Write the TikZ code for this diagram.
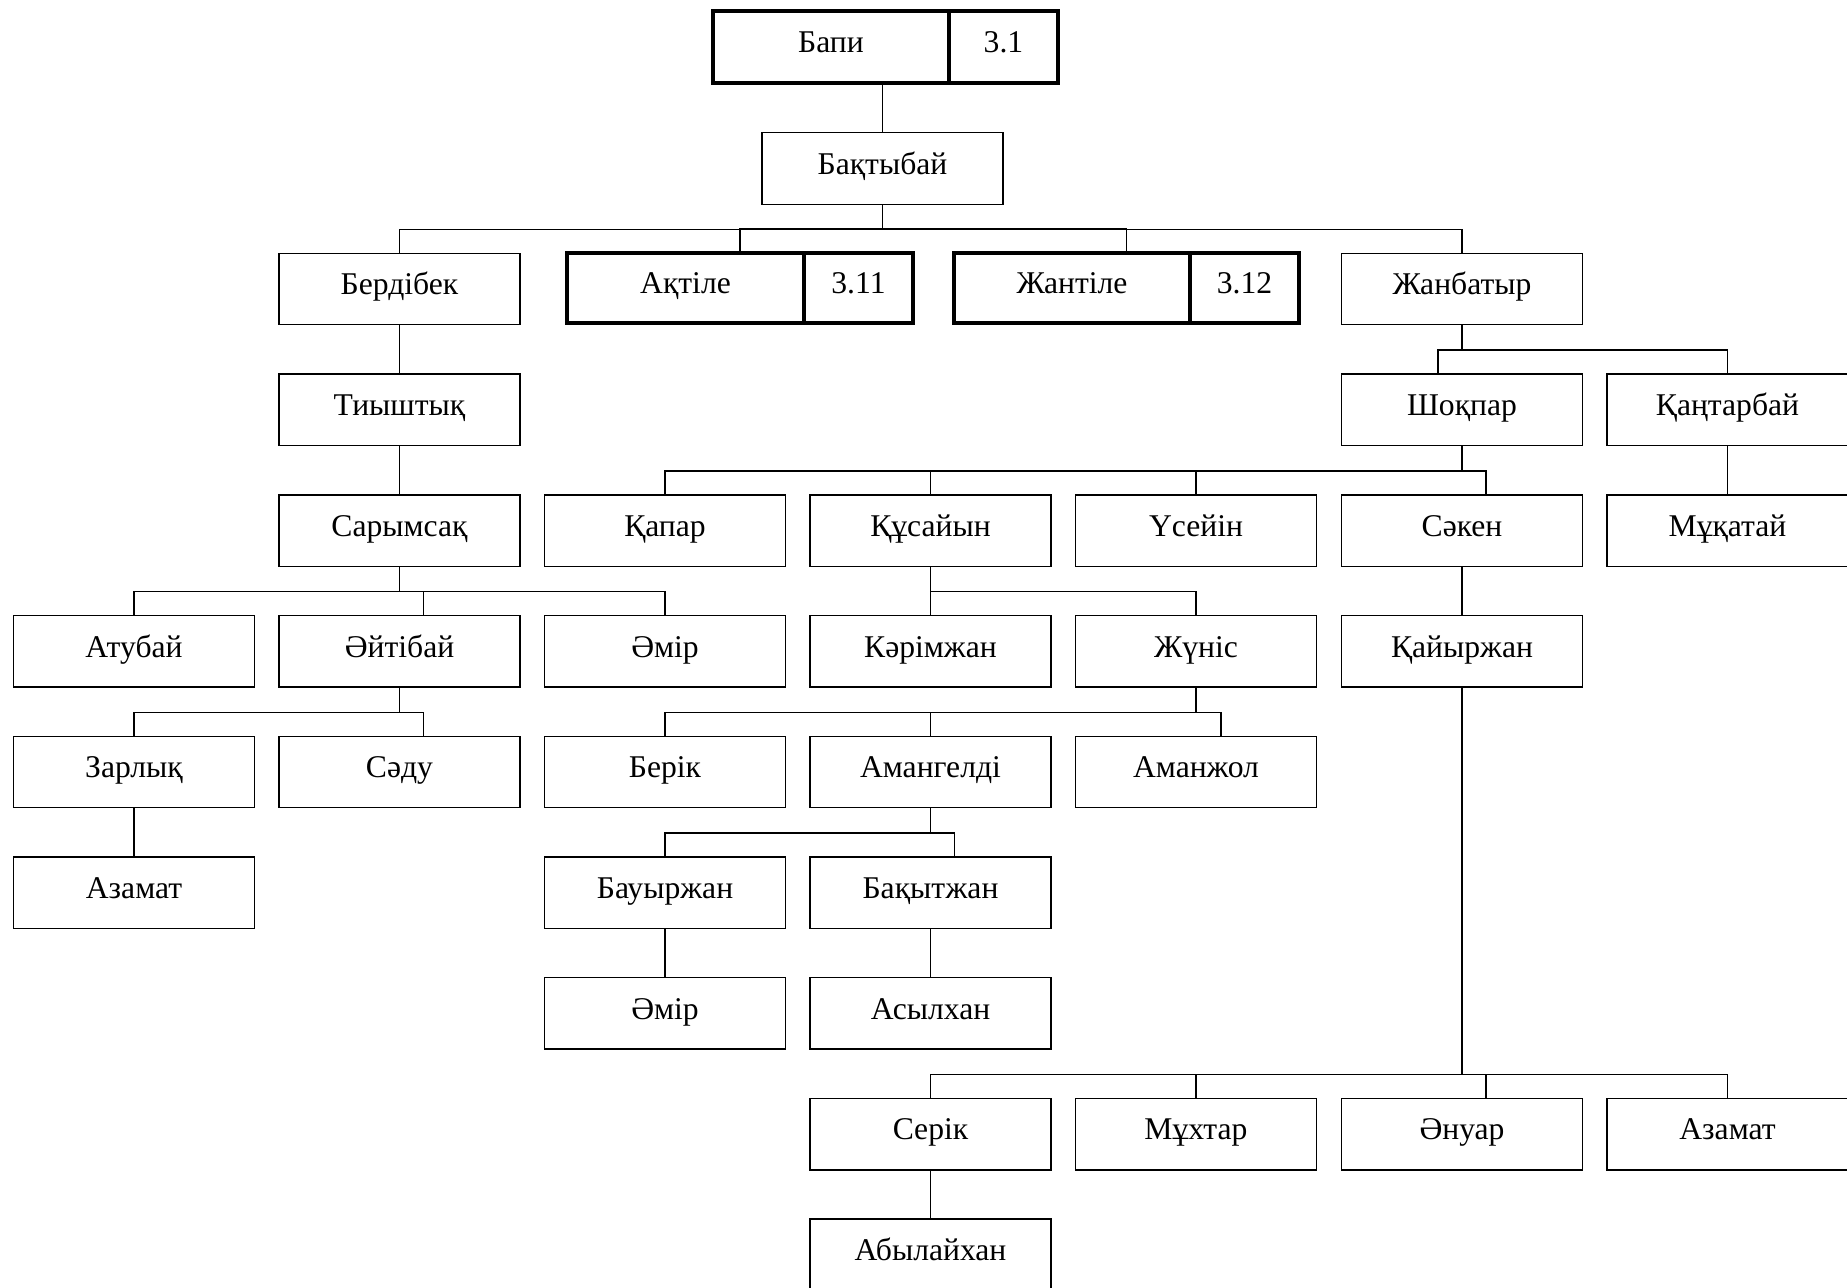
\documentclass[tikz,border=0pt]{standalone}
\usepackage{fontspec}
\setmainfont{Liberation Serif}
\usetikzlibrary{positioning,calc}
\tikzset{
  person/.style={draw,line width=.42pt,rectangle,minimum width=2.41cm,minimum height=.715cm,
    inner sep=0pt,outer sep=0pt,font=\fontsize{9}{10}\selectfont,text height=6.5pt,text depth=3.2pt},
  branch/.style={person,line width=1.15pt,minimum height=.70cm},
  branchno/.style={branch,minimum width=1.09cm},
  link/.style={line width=.42pt}
}
\begin{document}
\begin{tikzpicture}[x=1cm,y=1cm]
\useasboundingbox (0,0) rectangle (18.47,-12.88);

% top of the tree
\node[branch,minimum width=2.36cm,minimum height=.72cm] (bapi) at (8.31,-0.47) {Бапи};
\node[branchno,minimum height=.72cm,right=0pt of bapi] (bapino) {3.1};
\node[person] (baktybai) at (8.825,-1.685) {Бақтыбай};

\node[person] (berdibek) at (3.995,-2.89) {Бердібек};
\node[branch,minimum width=2.37cm] (aktile) at (6.855,-2.88) {Ақтіле};
\node[branchno,right=0pt of aktile] (aktileno) {3.11};
\node[branch,minimum width=2.36cm] (zhantile) at (10.72,-2.88) {Жантіле};
\node[branchno,right=0pt of zhantile] (zhantileno) {3.12};
\node[person] (zhanbatyr) at (14.62,-2.89) {Жанбатыр};

% Berdibek line
\node[person] (tiyshtyq) at (3.995,-4.099) {Тиыштық};
\node[person] (sarymsak) at (3.995,-5.306) {Сарымсақ};
\node[person] (atubai) at (1.34,-6.513) {Атубай};
\node[person] (oitibai) at (3.995,-6.513) {Әйтібай};
\node[person] (omir) at (6.65,-6.513) {Әмір};
\node[person] (zarlyk) at (1.34,-7.72) {Зарлық};
\node[person] (sadu) at (3.995,-7.72) {Сәду};
\node[person] (azamat) at (1.34,-8.927) {Азамат};

% Zhanbatyr line
\node[person] (shokpar) at (14.62,-4.099) {Шоқпар};
\node[person] (qantarbai) at (17.275,-4.099) {Қаңтарбай};
\node[person] (qapar) at (6.65,-5.306) {Қапар};
\node[person] (qusaiyn) at (9.305,-5.306) {Құсайын};
\node[person] (usein) at (11.96,-5.306) {Үсейін};
\node[person] (saken) at (14.62,-5.306) {Сәкен};
\node[person] (mukatai) at (17.275,-5.306) {Мұқатай};
\node[person] (karimzhan) at (9.305,-6.513) {Кәрімжан};
\node[person] (zhunis) at (11.96,-6.513) {Жүніс};
\node[person] (kaiyrzhan) at (14.62,-6.513) {Қайыржан};
\node[person] (berik) at (6.65,-7.72) {Берік};
\node[person] (amangeldi) at (9.305,-7.72) {Амангелді};
\node[person] (amanzhol) at (11.96,-7.72) {Аманжол};
\node[person] (bauyrzhan) at (6.65,-8.927) {Бауыржан};
\node[person] (bakytzhan) at (9.305,-8.927) {Бақытжан};
\node[person] (omirb) at (6.65,-10.134) {Әмір};
\node[person] (asylkhan) at (9.305,-10.134) {Асылхан};
\node[person] (serik) at (9.305,-11.341) {Серік};
\node[person] (mukhtar) at (11.96,-11.341) {Мұхтар};
\node[person] (anuar) at (14.62,-11.341) {Әнуар};
\node[person] (azamatb) at (17.275,-11.341) {Азамат};
\node[person] (abylaikhan) at (9.305,-12.548) {Абылайхан};

% connectors, drawn from child up to parent
\draw[link] (baktybai.north) -- (baktybai.north |- bapi.south);
\draw[link] (berdibek.north) -- ++(0,.24) -| (baktybai.south);
\draw[link] ($(aktile.north west)!.5!(aktileno.north east)$) -- ++(0,.24) -| (baktybai.south);
\draw[link] ($(zhantile.north west)!.5!(zhantileno.north east)$) -- ++(0,.24) -| (baktybai.south);
\draw[link] (zhanbatyr.north) -- ++(0,.24) -| (baktybai.south);

\draw[link] (tiyshtyq.north) -- (berdibek.south);
\draw[link] (sarymsak.north) -- (tiyshtyq.south);
\draw[link] (atubai.north) -- ++(0,.24) -| (sarymsak.south);
\draw[link] ([xshift=2.4mm]oitibai.north) -- ++(0,.24) -| (sarymsak.south);
\draw[link] (omir.north) -- ++(0,.24) -| (sarymsak.south);
\draw[link] (zarlyk.north) -- ++(0,.24) -| (oitibai.south);
\draw[link] ([xshift=2.4mm]sadu.north) -- ++(0,.24) -| (oitibai.south);
\draw[link] (azamat.north) -- (zarlyk.south);

\draw[link] ([xshift=-2.4mm]shokpar.north) -- ++(0,.24) -| (zhanbatyr.south);
\draw[link] (qantarbai.north) -- ++(0,.24) -| (zhanbatyr.south);
\draw[link] (mukatai.north) -- (qantarbai.south);
\draw[link] (qapar.north) -- ++(0,.24) -| (shokpar.south);
\draw[link] (qusaiyn.north) -- ++(0,.24) -| (shokpar.south);
\draw[link] (usein.north) -- ++(0,.24) -| (shokpar.south);
\draw[link] ([xshift=2.4mm]saken.north) -- ++(0,.24) -| (shokpar.south);
\draw[link] (karimzhan.north) -- ++(0,.24) -| (qusaiyn.south);
\draw[link] (zhunis.north) -- ++(0,.24) -| (qusaiyn.south);
\draw[link] (kaiyrzhan.north) -- (saken.south);
\draw[link] (berik.north) -- ++(0,.24) -| (zhunis.south);
\draw[link] (amangeldi.north) -- ++(0,.24) -| (zhunis.south);
\draw[link] ([xshift=2.5mm]amanzhol.north) -- ++(0,.24) -| (zhunis.south);
\draw[link] (bauyrzhan.north) -- ++(0,.24) -| (amangeldi.south);
\draw[link] ([xshift=2.4mm]bakytzhan.north) -- ++(0,.24) -| (amangeldi.south);
\draw[link] (omirb.north) -- (bauyrzhan.south);
\draw[link] (asylkhan.north) -- (bakytzhan.south);
\draw[link] (serik.north) -- ++(0,.24) -| (kaiyrzhan.south);
\draw[link] (mukhtar.north) -- ++(0,.24) -| (kaiyrzhan.south);
\draw[link] ([xshift=2.4mm]anuar.north) -- ++(0,.24) -| (kaiyrzhan.south);
\draw[link] (azamatb.north) -- ++(0,.24) -| (kaiyrzhan.south);
\draw[link] (abylaikhan.north) -- (serik.south);
\end{tikzpicture}
\end{document}
